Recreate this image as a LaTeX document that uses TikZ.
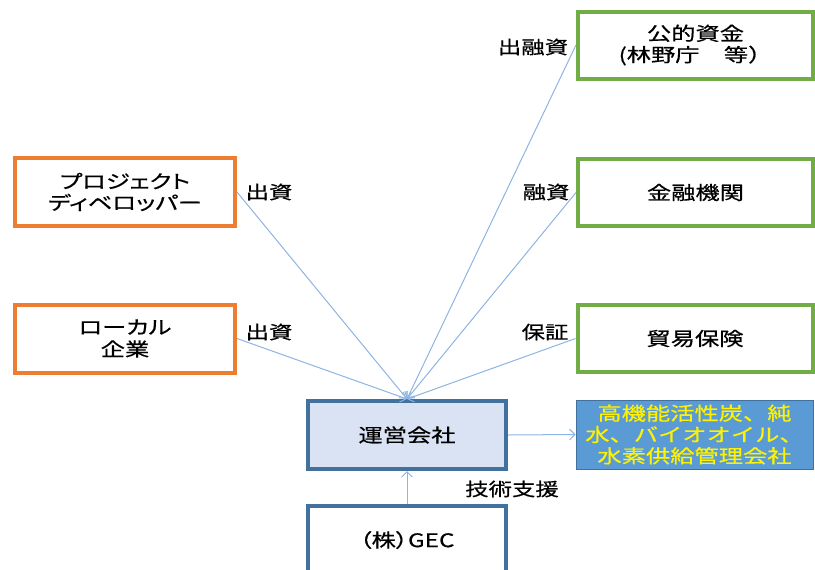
\documentclass[tikz,border=0pt]{standalone}
\usepackage{fontspec}
\newfontfamily\jp[FakeStretch=1.3,FakeBold=0.6]{Noto Sans CJK JP}
\newfontfamily\jpp[FakeStretch=1.3,FakeBold=0.6,RawFeature=+palt]{Noto Sans CJK JP}
\usetikzlibrary{arrows.meta}
\definecolor{corange}{HTML}{ED7D31}
\definecolor{cgreen}{HTML}{70AD47}
\definecolor{cdblue}{HTML}{41719C}
\definecolor{clight}{HTML}{DAE3F3}
\definecolor{cblue}{HTML}{5B9BD5}
\definecolor{clink}{HTML}{8DB4E2}
\tikzset{
  boxbase/.style={draw, line width=3pt, fill=white, inner sep=0pt, align=center,
    font=\jp\fontsize{14}{16}\selectfont},
  orangebox/.style={boxbase, draw=corange, minimum width=165pt, minimum height=51pt},
  greenbox/.style={boxbase, draw=cgreen, minimum width=176.25pt, minimum height=50.25pt},
  unbox/.style={boxbase, draw=cdblue, fill=clight, minimum width=148.5pt, minimum height=51pt},
  bluebox/.style={draw=cdblue, line width=0.6pt, fill=cblue, text=yellow, inner sep=0pt,
    align=center, minimum width=177.75pt, minimum height=51.75pt,
    font=\jp\fontsize{14}{16}\selectfont},
  lbl/.style={inner sep=0pt, font=\jp\fontsize{13.5}{15}\selectfont},
  conn/.style={draw=clink, line width=0.75pt, -{Straight Barb[length=4pt,width=8pt]}}
}
\begin{document}
\begin{tikzpicture}[x=0.75pt,y=-0.75pt]
\useasboundingbox (0,0) rectangle (815,569);
\node[orangebox, font=\jpp\fontsize{14}{16}\selectfont] (pd) at (125,192) {プロジェクト\\ディベロッパー};
\node[orangebox, font=\jpp\fontsize{14}{16.5}\selectfont] (lk) at (125,338.5) {ローカル\\企業};
\node[greenbox] (kt) at (695.5,45) {公的資金\\(林野庁　等）};
\node[greenbox] (kin) at (695.5,192.5) {金融機関};
\node[greenbox] (bo) at (695,338.5) {貿易保険};
\node[unbox] (un) at (407,435) {運営会社};
\node[unbox, fill=white, font=\jpp\fontsize{14}{16}\selectfont] (gec) at (407,540) {（株）GEC};
\node[bluebox] (bl) at (694.5,434.5) {高機能活性炭、純\\水、バイオオイル、\\水素供給管理会社};

\node[lbl] (l1) at (269,192) {出資};
\node[lbl] (l2) at (269,332) {出資};
\node[lbl] (l3) at (533,47) {出融資};
\node[lbl] (l4) at (546,192) {融資};
\node[lbl] (l5) at (545,332) {保証};
\node[lbl] (l6) at (512,489) {技術支援};

\draw[conn] (pd.east) -- (un.north);
\draw[conn] (lk.east) -- (un.north);
\draw[conn] (kt.west) -- (un.north);
\draw[conn] (kin.west) -- (un.north);
\draw[conn] (bo.west) -- (un.north);
\draw[conn] (un.east) -- (bl.west);
\draw[conn] (gec.north) -- (un.south);
\end{tikzpicture}
\end{document}
